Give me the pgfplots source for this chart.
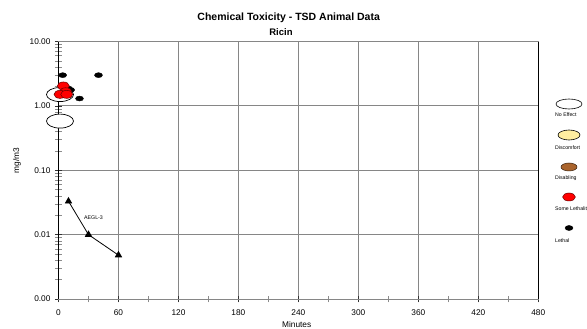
\documentclass[border=0pt]{standalone}
\usepackage{fontspec}
\setmainfont{Liberation Sans}
\usepackage{pgfplots}
\pgfplotsset{compat=1.18}

\definecolor{gridgray}{RGB}{134,134,134}
\definecolor{discomfort}{RGB}{255,238,160}
\definecolor{disabling}{RGB}{170,100,45}

\begin{document}
\begin{tikzpicture}
\useasboundingbox (-58.5pt,-30pt) rectangle (528.5pt,299pt);

\begin{axis}[
  at={(0pt,0pt)}, anchor=south west,
  scale only axis, width=479.8pt, height=257.5pt,
  xmin=0, xmax=480,
  ymode=log, ymin=0.001, ymax=10,
  xtick={0,60,...,480}, minor x tick num=1,
  ytick={0.001,0.01,0.1,1,10},
  yticklabels={0.00,0.01,0.10,1.00,10.00},
  minor ytick={0.002,0.003,0.004,0.005,0.006,0.007,0.008,0.009,
               0.02,0.03,0.04,0.05,0.06,0.07,0.08,0.09,
               0.2,0.3,0.4,0.5,0.6,0.7,0.8,0.9,
               2,3,4,5,6,7,8,9},
  tick pos=left,
  grid=major,
  major grid style={gridgray, line width=0.8pt},
  axis line style={gridgray, line width=0.8pt},
  tick align=center,
  major tick length=7pt, minor tick length=7pt,
  major tick style={black!80, line width=0.6pt},
  minor tick style={black!45, line width=0.6pt},
  /pgf/number format/assume math mode=true,
  tick label style={font=\fontsize{8.3}{10}\selectfont},
  xticklabel style={yshift=-4pt},
  yticklabel style={xshift=-1pt},
  clip=false,
]
% y axis and right border drawn in black
\draw[black, line width=0.9pt] (rel axis cs:0,0) -- (rel axis cs:0,1);
\draw[black, line width=0.9pt] (rel axis cs:1,0) -- (rel axis cs:1,1);

% No Effect
\addplot[only marks, mark=*, mark size=7pt,
  mark options={xscale=1.93, fill=white, draw=black, line width=0.7pt}]
  coordinates {(1.5,1.5) (1.5,0.58)};

% Lethal
\addplot[only marks, mark=*, mark size=2.5pt,
  mark options={xscale=1.6, fill=black, draw=black}]
  coordinates {(4.2,3.0) (40,3.0) (21,1.3) (9.8,1.87) (12.2,1.77)};

% Some Lethality
\addplot[only marks, mark=*, mark size=4pt,
  mark options={xscale=1.5, fill=red, draw=black!60!red, line width=0.5pt}]
  coordinates {(4.8,2.04) (7.2,1.66) (1.5,1.51) (8.2,1.51)};

% AEGL-3
\addplot[black, line width=0.8pt, mark=triangle*, mark size=3.5pt,
  mark options={solid}]
  coordinates {(10,0.033) (30,0.010) (60,0.0048)};
\node[font=\fontsize{5.3}{6}\selectfont] at (axis cs:35,0.0186) {AEGL-3};
\end{axis}

% legend
\begin{axis}[
  at={(496.5pt,0pt)}, anchor=south west,
  scale only axis, width=32pt, height=257.5pt,
  xmin=0, xmax=32, ymin=0, ymax=257.5,
  hide axis, clip=false,
]
\addplot[only marks, mark=*, mark size=5pt,
  mark options={xscale=2.6, fill=white, draw=black, line width=0.6pt}]
  coordinates {(14,195)};
\addplot[only marks, mark=*, mark size=5pt,
  mark options={xscale=2.2, fill=discomfort, draw=black, line width=0.6pt}]
  coordinates {(14,164)};
\addplot[only marks, mark=*, mark size=4pt,
  mark options={xscale=2, fill=disabling, draw=black!70!disabling, line width=0.5pt}]
  coordinates {(14,132)};
\addplot[only marks, mark=*, mark size=4pt,
  mark options={xscale=1.6, fill=red, draw=black!60!red, line width=0.5pt}]
  coordinates {(14,102)};
\addplot[only marks, mark=*, mark size=2.5pt,
  mark options={xscale=1.6, fill=black, draw=black}]
  coordinates {(14,71)};
\begin{scope}[every node/.style={anchor=west, inner sep=0pt,
    font=\fontsize{5.2}{6}\selectfont}]
\node at (axis cs:0,184) {No Effect};
\node at (axis cs:0,151) {Discomfort};
\node at (axis cs:0,121) {Disabling};
\node at (axis cs:0,90) {Some Lethality};
\node at (axis cs:0,58) {Lethal};
\end{scope}
\end{axis}

% titles and axis labels
\node[font=\bfseries\fontsize{10.5}{12}\selectfont] at (230.2pt,281.7pt)
  {Chemical Toxicity - TSD Animal Data};
\node[font=\bfseries\fontsize{9.5}{11}\selectfont] at (222.5pt,266.7pt) {Ricin};
\node[rotate=90, font=\fontsize{8.3}{10}\selectfont] at (-41.5pt,138.3pt) {mg/m3};
\node[font=\fontsize{8.3}{10}\selectfont] at (238.2pt,-25.3pt) {Minutes};
\end{tikzpicture}
\end{document}
